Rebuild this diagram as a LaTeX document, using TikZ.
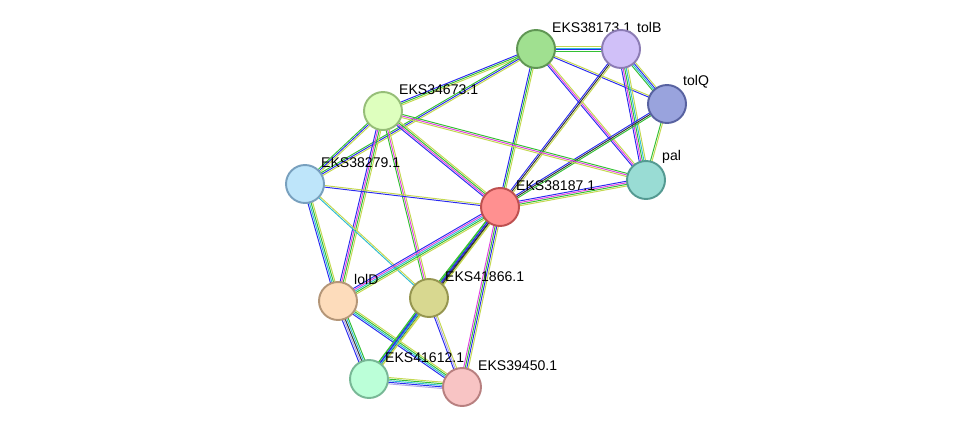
\documentclass[tikz,border=0pt]{standalone}
\usepackage{fontspec}
\setmainfont{Liberation Sans}
\usepackage{tikz}
\usetikzlibrary{calc}
\pgfdeclarelayer{background}
\pgfsetlayers{background,main}
\definecolor{eg}{HTML}{33C033}
\definecolor{eb}{HTML}{2A2AF0}
\definecolor{em}{HTML}{E040E0}
\definecolor{ey}{HTML}{C4D850}
\definecolor{ec}{HTML}{30BCD0}
\definecolor{ek}{HTML}{333333}
\definecolor{el}{HTML}{B0A8E8}
\tikzstyle{prot} = [circle, minimum size=0.76cm, inner sep=0pt, line width=1.1pt]
\tikzstyle{lbl}  = [font=\fontsize{8}{9}\selectfont, inner sep=1pt]
\newcommand\edge[4]{%
  \foreach \c [count=\i] in {#4} {
    \pgfmathsetmacro\o{(\i-1-(#3-1)/2)*0.9}
    \draw [\c, line width=0.55pt] ($(#1)!\o pt!90:(#2)$) -- ($(#2)!\o pt!-90:(#1)$);
  }}
\begin{document}
\begin{tikzpicture}[x=0.02cm, y=-0.02cm]
      \useasboundingbox (0,0) rectangle (976,433);

      \node (n38173) [prot, fill={rgb,255:red,160;green,224;blue,144}, draw={rgb,255:red,96;green,150;blue,84},  label={[lbl]45:EKS38173.1}] at (536,49)  {};
      \node (ntolB)  [prot, fill={rgb,255:red,208;green,192;blue,248}, draw={rgb,255:red,140;green,124;blue,180}, label={[lbl]45:tolB}]       at (621,49)  {};
      \node (ntolQ)  [prot, fill={rgb,255:red,153;green,163;blue,221}, draw={rgb,255:red,88;green,98;blue,160},   label={[lbl]45:tolQ}]       at (667,104) {};
      \node (npal)   [prot, fill={rgb,255:red,153;green,220;blue,212}, draw={rgb,255:red,84;green,154;blue,146},  label={[lbl]45:pal}]        at (646,180) {};
      \node (n34673) [prot, fill={rgb,255:red,222;green,255;blue,190}, draw={rgb,255:red,150;green,190;blue,120}, label={[lbl]45:EKS34673.1}] at (383,111) {};
      \node (n38279) [prot, fill={rgb,255:red,190;green,229;blue,250}, draw={rgb,255:red,120;green,160;blue,190}, label={[lbl]45:EKS38279.1}] at (305,184) {};
      \node (n38187) [prot, fill={rgb,255:red,255;green,144;blue,144}, draw={rgb,255:red,190;green,80;blue,80},   label={[lbl]45:EKS38187.1}] at (500,207) {};
      \node (nlolD)  [prot, fill={rgb,255:red,253;green,220;blue,187}, draw={rgb,255:red,180;green,150;blue,120}, label={[lbl]45:lolD}]       at (338,301) {};
      \node (n41866) [prot, fill={rgb,255:red,216;green,216;blue,144}, draw={rgb,255:red,150;green,150;blue,80},  label={[lbl]45:EKS41866.1}] at (429,298) {};
      \node (n41612) [prot, fill={rgb,255:red,187;green,255;blue,216}, draw={rgb,255:red,120;green,184;blue,150}, label={[lbl]45:EKS41612.1}] at (369,379) {};
      \node (n39450) [prot, fill={rgb,255:red,248;green,196;blue,196}, draw={rgb,255:red,184;green,128;blue,128}, label={[lbl]45:EKS39450.1}] at (462,387) {};

      \begin{pgfonlayer}{background}
      \edge{n38173}{ntolB}{4}{eg,eb,ec,ey}
      \edge{n38173}{ntolQ}{2}{eb,ey}
      \edge{n38173}{npal}{3}{eb,em,ey}
      \edge{n38173}{n34673}{3}{eb,eg,ey}
      \edge{n38173}{n38279}{3}{eg,eb,ey}
      \edge{n38173}{n38187}{3}{eb,eg,ey}
      \edge{ntolB}{ntolQ}{4}{eg,ec,eb,ey}
      \edge{ntolB}{npal}{5}{eb,em,eg,ec,ey}
      \edge{ntolB}{n38187}{3}{eb,ek,ey}
      \edge{ntolQ}{npal}{2}{eg,ey}
      \edge{ntolQ}{n38187}{3}{eb,ek,eg}
      \edge{npal}{n38187}{4}{eb,em,eg,ey}
      \edge{npal}{n34673}{3}{eg,em,ey}
      \edge{n34673}{n38279}{3}{eg,eb,ey}
      \edge{n34673}{n38187}{4}{eb,em,eg,ey}
      \edge{n34673}{nlolD}{4}{eb,em,eg,ey}
      \edge{n34673}{n41866}{3}{eg,em,ey}
      \edge{n38279}{n38187}{2}{eb,ey}
      \edge{n38279}{nlolD}{4}{eb,ec,eg,ey}
      \edge{n38279}{n41866}{2}{ec,ey}
      \edge{n38187}{nlolD}{5}{eb,em,ec,eg,ey}
      \edge{n38187}{n41866}{4}{eg,eb,ek,ey}
      \edge{n38187}{n41612}{4}{eg,eb,ek,ey}
      \edge{n38187}{n39450}{4}{em,eg,eb,ey}
      \edge{nlolD}{n41612}{5}{eb,el,ek,ec,eg}
      \edge{nlolD}{n39450}{4}{eb,ec,eg,ey}
      \edge{n41866}{n41612}{4}{eg,eb,ec,ey}
      \edge{n41866}{n39450}{3}{eb,el,ey}
      \edge{n41612}{n39450}{5}{el,eb,ec,eg,ey}
      \end{pgfonlayer}
\end{tikzpicture}
\end{document}
